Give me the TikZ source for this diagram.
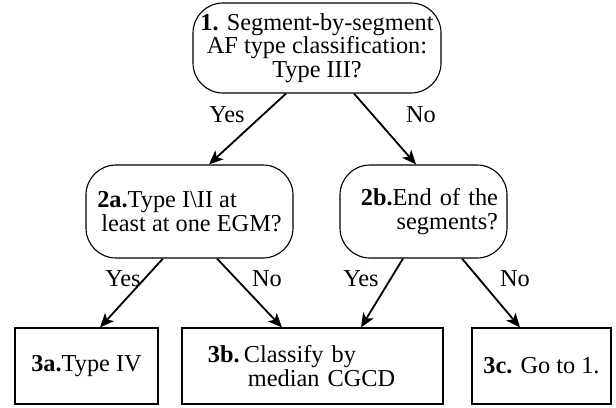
\documentclass[tikz,border=0pt]{standalone}
\usepackage{fontspec}
\setmainfont{Liberation Serif}
\usetikzlibrary{arrows.meta}
\newcommand{\drawa}{\draw[line width=1.3pt,->]}
\tikzset{
  roundbox/.style={draw,line width=0.8pt,rounded corners=0.75cm,inner sep=0pt},
  sqbox/.style={draw,line width=0.8pt,inner sep=0pt,minimum height=1.9cm},
  lbl/.style={inner sep=0pt}
}

\begin{document}
\begin{tikzpicture}[>={Stealth[length=10pt,width=8.5pt,inset=2.5pt]}, font=\fontsize{17.3}{16.7}\selectfont]
\useasboundingbox (0,0) rectangle (15.4,10.175);
% Questions
\node[roundbox,minimum width=6.2cm,minimum height=2.25cm,align=center] (q1) at (7.925,8.975) {\textbf{1.} Segment-by-segment\\ AF type classification:\\ Type III?};
\node[roundbox,minimum width=5.175cm,minimum height=2.325cm,align=left] (q2a) at (4.7375,4.8875) {\textbf{2a.}Type I\textbackslash II at\\ \,least at one EGM?};
\node[roundbox,minimum width=4.175cm,minimum height=2.325cm,text width=3.725cm,align=right] (q2b) at (10.5875,4.8875) {\textbf{2b.}End of the\\ segments?};

% Outcomes
\node[sqbox,minimum width=3.575cm] (r3a) at (2.1625,1.025) {\textbf{3a.}Type IV};
\node[sqbox,minimum width=6.525cm,text width=5.225cm,align=left] (r3b) at (7.8125,1.025) {\textbf{3b.}\,Classify by\\ \phantom{\textbf{3b.}\,}\,median CGCD};
\node[sqbox,minimum width=3.475cm] (r3c) at (13.5375,1.025) {\textbf{3c.} Go to 1.};

% Arrows
\drawa ([xshift=-0.775cm]q1.south) -- ([xshift=0.4875cm]q2a.north);
\drawa ([xshift=0.925cm]q1.south) -- ([xshift=-0.1875cm]q2b.north);
\drawa ([xshift=-0.6625cm]q2a.south) -- ([xshift=0.3375cm]r3a.north);
\drawa ([xshift=0.6875cm]q2a.south) -- ([xshift=-0.7625cm]r3b.north);
\drawa ([xshift=-0.5125cm]q2b.south) -- ([xshift=1.2125cm]r3b.north);
\drawa ([xshift=0.9625cm]q2b.south) -- ([xshift=-0.5375cm]r3c.north);

% Yes / No
\node[lbl] (y1) at (5.675,7.3) {Yes};
\node[lbl] (n1) at (10.525,7.3) {No};
\node[lbl] (y2a) at (3.075,3.2) {Yes};
\node[lbl] (n2a) at (6.675,3.2) {No};
\node[lbl] (y2b) at (9.025,3.2) {Yes};
\node[lbl] (n2b) at (12.875,3.2) {No};
\end{tikzpicture}
\end{document}
